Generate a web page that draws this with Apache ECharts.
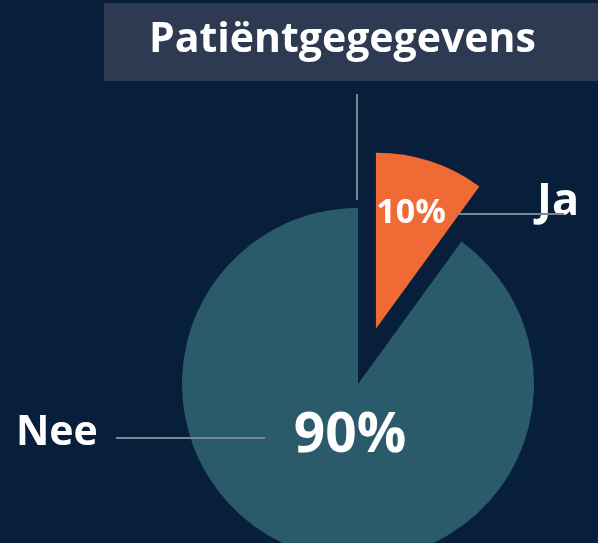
<!DOCTYPE html>
<html>
<head>
<meta charset="utf-8">
<script src="https://cdn.jsdelivr.net/npm/echarts@6/dist/echarts.min.js"></script>
<style>
html,body{margin:0;padding:0;background:#071f3b;}
#chart{width:598px;height:543px;}
</style>
</head>
<body>
<div id="chart"></div>
<script>
const titleText = 'Patiëntgegegevens';
const categories = ['Ja', 'Nee'];
const values = [10, 90];
const colors = ['#f06a35', '#2b5a6b'];

const FONT = 'Open Sans';
const WEIGHT = 'bold';
const chart = echarts.init(document.getElementById('chart'), null, {renderer: 'canvas'});

// label anchor spots (text placement only)
const pctPos = [{x: 411, y: 213, fs: 34}, {x: 350, y: 436, fs: 55}];
const namePos = [{x: 537, y: 202, fs: 45}, {x: 16, y: 433, fs: 41}];

function ghostSeries(formatter, layoutFn, fontSize) {
  return {
    type: 'pie',
    center: [358, 384],
    radius: 176,
    startAngle: 90,
    clockwise: true,
    silent: true,
    z: 5,
    itemStyle: {color: 'rgba(0,0,0,0)'},
    label: {
      show: true,
      position: 'inside',
      formatter: formatter,
      color: '#ffffff',
      fontFamily: FONT,
      fontWeight: WEIGHT,
      fontSize: fontSize
    },
    labelLine: {show: false},
    labelLayout: layoutFn,
    data: categories.map((c, i) => ({name: c, value: values[i]}))
  };
}

const option = {
  backgroundColor: '#071f3b',
  animation: false,
  title: {
    text: titleText,
    left: 144,
    top: 15,
    textStyle: {color: '#ffffff', fontFamily: FONT, fontWeight: WEIGHT, fontSize: 41}
  },
  graphic: [
    {type: 'rect', z: -1, shape: {x: 104, y: 3, width: 494, height: 78}, style: {fill: '#2e3a52'}},
    {type: 'line', z: 100, shape: {x1: 357, y1: 94, x2: 357, y2: 200}, style: {stroke: '#7b8494', lineWidth: 2}},
    {type: 'line', z: 100, shape: {x1: 455, y1: 214, x2: 564, y2: 214}, style: {stroke: '#7b8494', lineWidth: 2}},
    {type: 'line', z: 100, shape: {x1: 116, y1: 438, x2: 265, y2: 438}, style: {stroke: '#7b8494', lineWidth: 2}}
  ],
  series: [
    {
      type: 'pie',
      center: [358, 384],
      radius: 176,
      startAngle: 90,
      clockwise: true,
      selectedMode: 'single',
      selectedOffset: 58,
      silent: true,
      label: {show: false},
      labelLine: {show: false},
      data: categories.map((c, i) => ({
        name: c,
        value: values[i],
        selected: i === 0,
        itemStyle: {color: colors[i]}
      }))
    },
    ghostSeries('{c}%', function (p) {
      const s = pctPos[p.dataIndex];
      return {x: s.x, y: s.y, align: 'center', verticalAlign: 'middle', fontSize: s.fs};
    }, 34),
    ghostSeries('{b}', function (p) {
      const s = namePos[p.dataIndex];
      return {x: s.x, y: s.y, align: 'left', verticalAlign: 'middle', fontSize: s.fs};
    }, 41)
  ]
};
chart.setOption(option);
</script>
</body>
</html>
